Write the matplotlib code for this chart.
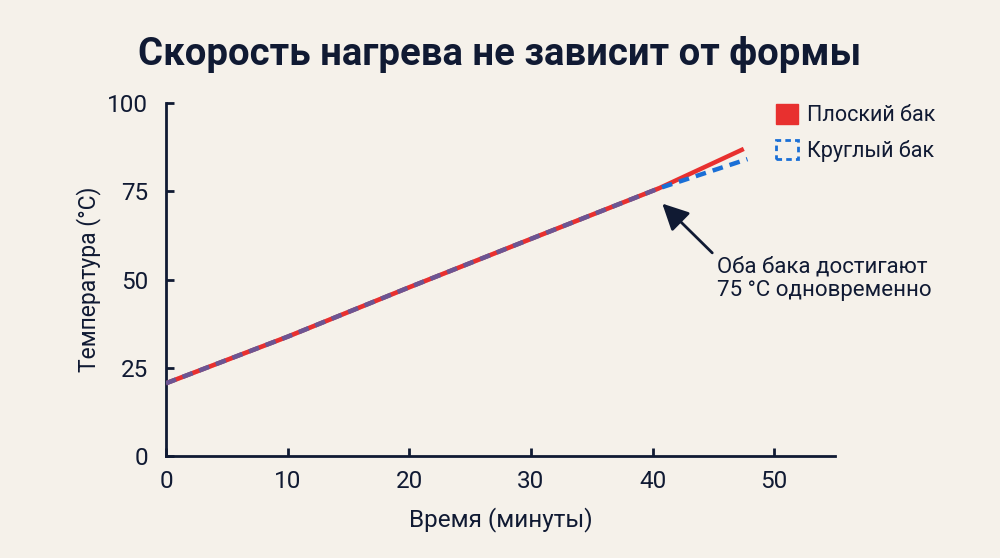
import matplotlib
matplotlib.use("Agg")
import matplotlib.pyplot as plt
from matplotlib.patches import Patch

plt.rcParams['font.family'] = ['Roboto', 'DejaVu Sans']

# Data
flat_t = [0, 10, 20, 30, 40.5, 47.5]
flat_temp = [20.6, 33.8, 47.8, 61.5, 75.8, 87.0]
round_t = [0, 10, 20, 30, 40.5, 47.8]
round_temp = [20.6, 33.8, 47.8, 61.5, 75.8, 84.1]
x_ticks = [0, 10, 20, 30, 40, 50]
y_ticks = [0, 25, 50, 75, 100]

title = "Скорость нагрева не зависит от формы"
xlabel = "Время (минуты)"
ylabel = "Температура (°C)"
flat_label = "Плоский бак"
round_label = "Круглый бак"
note = "Оба бака достигают\n75 °C одновременно"

BG = "#f5f1ea"
INK = "#101a33"
RED = "#e8302f"
BLUE = "#1a6fd6"

fig = plt.figure(figsize=(10, 5.58), dpi=100, facecolor=BG)
ax = fig.add_axes([0.166, 0.1828, 0.669, 0.6326])
ax.set_facecolor(BG)

ax.plot(flat_t, flat_temp, color=RED, lw=3.2, solid_capstyle='butt', zorder=3)
ax.plot(round_t, round_temp, color=BLUE, lw=3.2, ls=(0, (2.4, 1.6)),
        dash_capstyle='butt', zorder=4)
# shared part of both curves (first points are common) blended
n_shared = 5
ax.plot(flat_t[:n_shared], flat_temp[:n_shared], color=RED, lw=3.2, alpha=0.4,
        solid_capstyle='butt', zorder=5)

ax.set_xlim(0, 55)
ax.set_ylim(0, 100)
ax.set_xticks(x_ticks)
ax.set_yticks(y_ticks)
for s in ['top', 'right']:
    ax.spines[s].set_visible(False)
for s in ['left', 'bottom']:
    ax.spines[s].set_color(INK)
    ax.spines[s].set_linewidth(2.0)
ax.tick_params(direction='in', length=6, width=2.0, color=INK,
               labelsize=17.5, labelcolor=INK)
ax.tick_params(axis='y', pad=13)
ax.tick_params(axis='x', pad=10)

ax.set_xlabel(xlabel, fontsize=17.5, color=INK, labelpad=10)
ax.set_ylabel(ylabel, fontsize=16.5, color=INK, labelpad=4)

fig.text(0.5, 0.902, title, ha='center', va='center', fontsize=27.5,
         fontweight='bold', color=INK)

handles = [Patch(facecolor=RED, edgecolor=RED, label=flat_label),
           Patch(facecolor='none', edgecolor=BLUE, linestyle=(0, (2, 1.5)),
                 linewidth=2, label=round_label)]
leg = ax.legend(handles=handles, loc='upper left', bbox_to_anchor=(0.899, 1.022),
                frameon=False, fontsize=15.5, handlelength=1.0, handleheight=1.05,
                handletextpad=0.45, labelspacing=0.62, borderaxespad=0)
for t in leg.get_texts():
    t.set_color(INK)

ax.annotate(note, xy=(40.8, 71.5), xytext=(45.3, 50.2),
            ha='left', va='center', fontsize=16, color=INK, linespacing=1.2,
            arrowprops=dict(arrowstyle='-|>,head_length=1.0,head_width=0.5',
                            color=INK, lw=2.0, relpos=(0, 0.97), shrinkA=2, shrinkB=0))

fig.savefig("out.png", dpi=100, facecolor=BG)
